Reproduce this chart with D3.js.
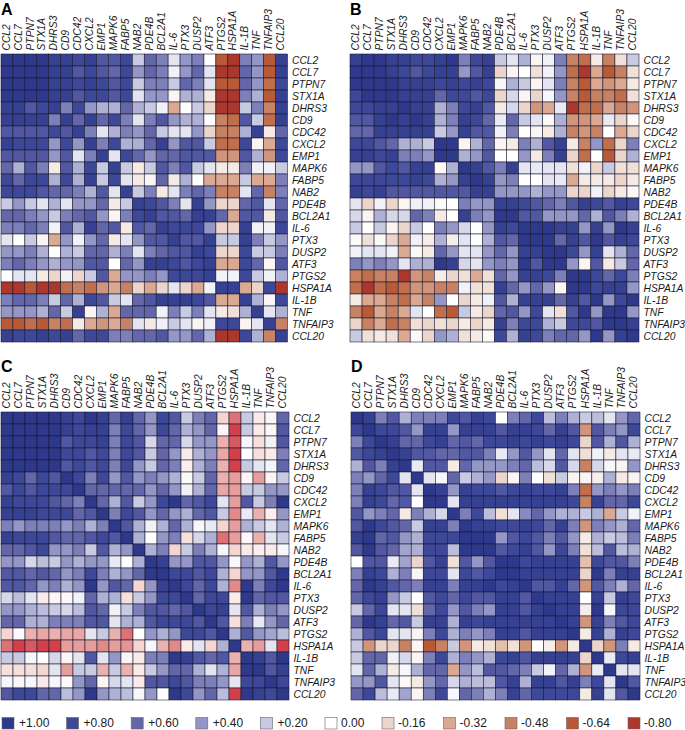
<!DOCTYPE html>
<html><head><meta charset="utf-8">
<style>html,body{margin:0;padding:0;background:#fff}svg{display:block}text{font-family:"Liberation Sans",Arial,sans-serif}</style>
<script src="https://cdn.jsdelivr.net/npm/d3@7"></script></head><body><svg id="c" width="685" height="730"></svg>
<script>
const genes=["CCL2","CCL7","PTPN7","STX1A","DHRS3","CD9","CDC42","CXCL2","EMP1","MAPK6","FABP5","NAB2","PDE4B","BCL2A1","IL-6","PTX3","DUSP2","ATF3","PTGS2","HSPA1A","IL-1B","TNF","TNFAIP3","CCL20"];
const legendValues=[1,0.8,0.6,0.4,0.2,0,-0.16,-0.32,-0.48,-0.64,-0.8];
const legendLabels=["+1.00","+0.80","+0.60","+0.40","+0.20","0.00","-0.16","-0.32","-0.48","-0.64","-0.80"];
const rampDomain=[-0.8,-0.64,-0.48,-0.32,-0.16,0,0.2,0.4,0.6,0.8,1];
const rampColors=["#ac372d","#b95a36","#c78263","#dba892","#ecd5ca","#ffffff","#c8cae2","#9497c6","#6367a9","#3e4898","#2e398b"];
const rampColorsC=["#d2404a","#d75a62","#e08a8a","#eab1ae","#f4d5d0","#ffffff","#c8cae2","#9497c6","#6367a9","#3e4898","#2e398b"];
// cell values in tenths of a unit
const panelA=[
[10,10,10,10,9,9,8,9,7,7,8,2,6,5,1,4,5,0,-7,-8,5,4,-7,9],
[10,10,10,10,9,9,7,8,7,6,8,4,6,5,.5,4,6,1,-8,-8,6,4,-7,9],
[10,10,10,10,9,9,8,9,8,7,8,2,5,5,2,6,5,1,-7,-7,6,4,-6,8],
[10,10,10,10,9,9,7,8,8,7,8,1,4,4,-.5,3,3,-1,-8,-8,5,3,-7,9],
[9,9,7,8,9,5,8,4,3,3,6,3,2,.5,-3,0,2,-2,-8,-8,2,5,-5,9],
[9,9,9,9,5,9,6,9,6,8,5,1,5,7,4,3,3,0,-5,-6,7,2,-6,9],
[7,7,7,7,8,7,9,5,1,3,5,4,6,2,1,1,4,-2,-5,-5,3,9,-1,6],
[9,8,8,8,4,8,4,9,5,8,3,3,6,9,4,7,7,2,-6,-6,8,-.5,-3,8],
[7,7,7,7,4,7,1,5,9,1,8,6,4,6,6,7,7,7,-4,-4,7,3,-4,8],
[6,3,7,5,-1,7,3,8,2,9,2,-1,2,7,5,7,2,1,-1,-1,5,.5,.5,2],
[8,6,8,8,3,8,3,9,2,8,1,-1,-.5,6,-1,3,0,-3,-3,-3,2,-3,-3,5],
[8,8,8,7,6,6,5,3,7,1,9,2,5,-1,1,5,6,5,-5,-5,1,6,-5,5],
[2,4,2,1,3,1,4,4,6,-1,2,9,8,7,5,1,9,4,-2,-2,6,7,1,6],
[6,6,5,4,2,5,6,7,4,-.5,5,8,9,7,7,6,9,9,6,-3,7,7,-1,7],
[5,5,6,5,.5,7,3,9,6,7,-1,7,6,9,8,8,8,4,-2,-2,9,.5,.5,8],
[1,0,2,-.5,-3,4,.5,4,6,-1,1,4,7,7,9,7,7,9,2,2,9,5,2,4],
[4,4,5,3,0,3,2,6,6,3,5,1,5,6,7,7,9,8,-2,-2,8,2,2,5],
[5,6,5,4,3,4,4,7,7,0,6,4,9,9,8,7,8,9,-3,-3,8,6,-.5,7],
[0,1,1,-1,-2,.5,-2,2,7,-3,4,4,5,4,8,8,8,9,.5,.5,8,2,.5,3],
[-8,-8,-7,-8,-8,-6,-5,-6,-4,-3,-5,-2,-3,-2,1,-2,-3,.5,9,9,-3,-2,8,-8],
[5,6,6,5,2,6,3,8,7,2,1,6,7,9,9,9,8,7,-3,-3,9,3,-.5,8],
[4,4,4,3,6,2,9,-.5,3,-3,6,6,6,.5,5,2,5,1,-1,-1.5,3,9,1,3],
[-7,-7,-6,-7,-5,-6,-1,-3,-4,-3,-5,1,-1,.5,2,1,-.5,.5,8,8,-.5,1,9,-5],
[9,8,8,9,8,9,6,8,8,5,5,6,6,7,4,4,6,3,-8,-8,8,3,-5,9]];
const panelB=[
[9,10,10,9,9,8,8,9,10,5,8,9,2,1,3,-.5,.5,5,-5,-6,-1,-5,-1.5,2],
[10,10,10,9,8,7,8,9,9,4,7,9,-2,-.5,0,-1.5,.5,4,-6,-8,-3,-7,-5,-1.5],
[10,10,10,10,9,9,9,8,9,8,9,8,.3,3,2,-.5,1,5,-5,-7,-3,-4,-3,-1],
[8,10,10,10,9,9,9,6,8,8,7,8,-2,1.5,-.5,-2,.3,4,-5,-7,-5,-5,-6,-1.5],
[8,8,9,9,10,9,9,3,5,8,9,7,-1,1.5,-2,-4,-3,.8,-8,-6,-6,-3,-5,-4],
[7,7,9,10,9,10,9,3,5,9,8,6,.8,6,2,1,-.3,3,-4,-4,-3,.8,-2,-.3],
[6,6,9,9,9,9,9,2,4,9,7,7,.5,5,0,-.5,-1,3,-5,-4,-5,0,-3,-2],
[8,8,7,6,3,3,2,10,10,-.5,3,6,-.5,-1,5,3,7,9,-1,-5,4,-6,-2,5],
[9,9,8,9,5,5,4,10,10,3,4,7,0,0,4,-1,5,9,-2,-6,0,-7,-2,3],
[4,4,7,8,7,9,9,-.3,3,10,9,7,5,9,1,.8,1,1,-1.5,.5,-2,2,-1.5,-1.5],
[8,8,8,8,8,9,8,3,4,9,10,9,4,5,0,0,1,.8,-3,-1,-1,-1,-2,-1],
[9,8,9,7,7,7,7,7,7,7,9,9,4,4,4,3,4,4,-2,-2,.5,-2,-1,-.3],
[1,-2,.5,-2,-.5,.5,.5,-.3,0,5,4,4,9,9,8,7,6,5,7,9,8,7,9,8],
[1.5,-.5,3,1.5,1.5,6,5,-1,0,9,5,4,10,10,7,7,4,4,4,6,3,7,5,3],
[2,0,2,-.5,-2,2,0,5,4,1.5,0,4,9,8,10,10,10,9,9,4,9,4,10,9],
[-.3,-1.5,-.3,-2,-3,.5,-.8,3,-.8,1,0,3,7,6,10,10,10,6,9,7,10,7,9,8],
[.5,1,1,.5,-3,-.3,-1,6,4,1,1,4,6,4,9,9,10,10,8,4,9,1,3,6],
[5,4,5,4,1,3,3,10,9,1.5,1,4,5,4,10,7,10,10,4,-.5,7,-1,2,6],
[-5,-6,-5,-5,-8,-4,-5,-.8,-2,-1.5,-3,-1.5,6,4,9,9,8,5,10,10,8,6,8,5],
[-6,-8,-6,-7,-6,-4,-4,-5,-5,.5,-1.5,-1.5,9,6,4,6,4,-.5,10,10,8,9,9,4],
[-1,-3,-3,-5,-6,-3,-5,4,0,-2,-1,.5,7,3,9,9,9,6,9,7,10,4,8,10],
[-5,-7,-3,-5,-3,1,0,-6,-7,2,-1,-2,6,7,4,8,1,-1.5,7,10,4,10,10,4],
[-2,-5,-3,-6,-5,-1.5,-2,-1.5,-2,-1,-2,-1,9,5,8,8,3,2,8,8,7,10,10,9],
[2,-1.5,-1,-1.5,-3,-.3,-2,4,3,-1.5,-1,-.3,8,3,9,8,5,6,6,4,10,4,9,10]];
const panelC=[
[10,10,10,10,10,9,8,10,9,6,9,6,4,8,7,2,5,6,-2,-6,2,-1,.3,6],
[10,10,10,10,10,9,8,9,9,5,8,6,4,8,6,3,4,6,-.5,-8,2,-1,-.5,7],
[10,10,10,10,10,7,8,8,9,5,8,7,1.5,6,6,1.5,4,4,-3,-7,.3,-1.5,.5,7],
[10,10,10,10,10,8,8,7,8,5,8,7,2,6,4,-1,3,4,-3.5,-8,0,-1.5,-1,5],
[10,10,10,10,10,7,8,7,8,5,8,4,2,6,5,-.8,3,5,-3,-8,2,1,.4,6],
[9,8,6,8,7,10,8,5,8,4,7,4,5,4,3,-.3,2,6,-3,-4,-.5,-4,-.5,2],
[7,8,7,8,8,8,10,6,6,6,6,6,4,6,4,.5,3,6,-3.5,-4,2,2,4,4],
[9,8,8,8,7,6,5,10,6,3,7,2,4,8,10,6,7,8,1,-4,7,2,5,10],
[9,9,9,8,8,8,6,7,10,5,8,7,4,6,4,3,6,7,2,-5,.8,-3,-.8,4],
[5,4,5,5,5,4,5,3,5,10,7,3,.5,3,6,3,.3,.8,-2,-4,3,2,1,3],
[9,8,8,8,7,6,6,7,8,7,10,3,0,4,5,-1.5,1.5,3,-6,-4,-.3,-3,1,2],
[6,6,7,8,4,4,5,2,7,3,4,10,3,5,-2,2,5,3,.3,-2,-1,-.8,-1,.3],
[4,4,1.5,2.5,2,4,3,4,4,.8,0,3,10,9,4,4,7,7,4,.3,4,3,7,4],
[7,7,6,7,6,4,5,8,5,3,4,6,10,10,8,8,7,8,3,-2,4,4,7,10],
[7,7,6,4,5,3,4,10,4,7,6,-2,4,9,10,8,6,8,3,-5,10,5,8,10],
[1.5,2.5,1,-1,-.5,-.3,.5,6,3,3,-1.5,2,4,8,8,10,6,8,8,-1,10,6,7,7],
[4,4,3,2.5,2,1.5,2.5,7,6,.5,2,5,7,7,6,7,10,8,9,1,7,3,5,4],
[6,6,3,3,5,5,5,7,7,1,3,3,7,8,8,8,7,10,7,-1.5,5,.8,4,6],
[-2,-.3,-3,-3.5,-3,-3.5,-3.5,1,2,-3,-6,0,4,3,4,8,8,7,10,3,7,4,3.5,2.5],
[-6,-8,-7,-8,-8,-4,-4,-4,-5,-4,-4.5,-2,.3,-3,-5,-1,1,-2,3,10,-3,-4,1,-8],
[2,2,.3,0,1.5,-.5,1,7,1,4,-.5,-1,5,5,10,9,7,6,7,-3,10,9,7,10],
[-1.5,-1.5,-1.5,-2,1,-4,2,2,-3,2,-3,-1,2,4,6,6,3,1,3,-3.5,10,10,7,9],
[.3,-.5,.3,-1,.3,-.3,4,6,-.5,1.5,1,-1,7,7,8,7,5,5,4,1,8,8,10,8],
[7,8,8,6,6,2.5,4,10,4,3,2.5,.3,4,0,10,8,4,6,2.5,-8,10,9,8,10]];
const panelD=[
[10,9,5,7,3,5,5,5,8,7,9,8,0,5,6,8,2.5,5,3,2,2.5,1,4,6],
[8,10,8,8,7,4,9,9,4,9,9,9,7,9,9,8,6,9,7,-4,7,5,4,8],
[5,8,10,9,6,6,8,9,6,7,6,8,8,9,8,9,8,9,8,-2,7,3,7,3],
[7,8,9,10,9,7,7,6,6,7,7,5,.8,4,7,4,1,6,1,-1.5,.5,-1,1,.8],
[3,7,5,9,10,.8,7,7,-1,6,4,4,4,5,6,2.5,1.5,7,1.5,-5,1.5,.3,-.5,4],
[5,4,6,8,1,10,1,.3,6,2,3,4,-2,-.5,5,0,-1.5,2,-.5,-.5,-.8,3,-1,-.5],
[5,9,8,7,7,1,10,9,4,9,8,8,7,8,9,8,8,9,5,-6,4,5,4,5],
[5,9,8,6,7,0,10,10,1,9,9,9,9,9,9,9,9,9,8,-5,9,6,6,8],
[7,4,5,6,-1,5,3,1.5,10,5,8,2.5,-1.5,1,4.5,6,4,3,3,2,3,-3,2,.5],
[7,10,8,7,6,2,9,9,5,10,9,9,8,8,9,8,6,9,5,-4,5,4,3,6],
[9,10,6,7,4,3,8,8,8,10,10,10,4,7,8,7,5,7,4,-1,3,2,2.5,5],
[7,10,7,6,3.5,3,8,8,2.5,10,10,10,7,8,9,7,4,8,5,-1.5,2.5,7,2.5,3],
[0,7,7,.8,3.5,-2,7,9,-1.5,7,4,7,10,10,8,9,9,9,9,-2.5,8,7,7,5],
[5,9,8,3,5,-.5,8,8,1,8,7,8,10,10,9,9,9,9,9,-2,10,5,9,9],
[6,10,9,7,6,5,9,9,5,9,9,10,8,9,10,7,7,9,6,-4,7,5,3,6],
[6,8,9,4,2,0,7,8,6,8,7,7,9,9,7,10,9,9,9,0,9,2,9,8],
[2,6,8,1,1,-1.5,6,8,4,7,5,4,9,9,7,9,10,9,9,-.8,10,.3,8,8],
[6,10,9,6,7,2,9,9,3,9,8,9,9,9,9,9,9,10,9,-4,9,5,7,8],
[3,7,8,1,1,-.5,5,8,3,5,4,5,9,9,7,9,9,9,10,-1,9,3,9,8],
[2,-4,-2,-2,-5,-.5,-7,-5,2,-4,-1,-1.5,-2.5,-1.5,-4,0,-.8,-4,-1,10,-2,-4,5,-1],
[2,6,6,.5,1.5,-.5,5,8,3,5,4,3,8,9,7,9,9,9,9,-2,10,.8,8,9],
[1,6,3,-1,.3,3,6,6,-3,4,2.5,7,7,6,5,2,.5,6,3,-4,.8,10,1,1],
[4,4,7,1,-.3,-1,4,6,1.5,3,2.5,2.5,7,9,3,9,9,7,9,5,8,1,10,7],
[6,8,2.5,.8,3.5,-.5,5,8,.3,6,5,3,5,9,6,8,8,8,8,-1,9,1,7,10]];
const readDomain=[-8,-7,-5,-3,-2,0,2,4,6,8,10];
const toValue=d3.scaleLinear().domain(readDomain).range(rampDomain);
const colorA=d3.scaleLinear().domain(rampDomain).range(rampColors);
const colorC=d3.scaleLinear().domain(rampDomain).range(rampColorsC);
const panels=[
 {name:"A",data:panelA,x0:1,x1:287.5,y0:54,y1:342,color:colorA,ly:14.5},
 {name:"B",data:panelB,x0:350,x1:639,y0:54,y1:342,color:colorA,ly:14.5},
 {name:"C",data:panelC,x0:1,x1:289,y0:412,y1:700,color:colorC,ly:371.5},
 {name:"D",data:panelD,x0:351,x1:640,y0:412,y1:700,color:colorA,ly:371.5}];
const svg=d3.select("#c");
const labelFont=10.3, ink="#1a1a1a";
panels.forEach(p=>{
 const x=d3.scaleBand().domain(genes).range([p.x0,p.x1]);
 const y=d3.scaleBand().domain(genes).range([p.y0,p.y1]);
 const g=svg.append("g");
 const cells=p.data.flatMap((r,i)=>r.map((v,j)=>({row:genes[i],col:genes[j],v})));
 g.selectAll("rect").data(cells).join("rect")
  .attr("x",d=>x(d.col)).attr("y",d=>y(d.row)).attr("width",x.bandwidth()).attr("height",y.bandwidth())
  .attr("fill",d=>p.color(toValue(d.v))).attr("stroke","#14162f").attr("stroke-width",0.55);
 g.selectAll("text.c").data(genes).join("text").attr("class","c")
  .attr("transform",d=>`translate(${x(d)+x.bandwidth()/2+2.7},${p.y0-3.5}) rotate(-90)`)
  .attr("font-size",labelFont).attr("font-style","italic").attr("fill",ink).text(d=>d);
 g.selectAll("text.r").data(genes).join("text").attr("class","r")
  .attr("x",p.x1+4.5).attr("y",d=>y(d)+y.bandwidth()/2+3.8)
  .attr("font-size",labelFont).attr("font-style","italic").attr("fill",ink).text(d=>d);
 svg.append("text").attr("x",p.x0).attr("y",p.ly).attr("font-size",16).attr("font-weight","bold").attr("fill","#000").text(p.name);
});
const legendX=d3.scaleLinear().domain([0,5,6,10]).range([2,325,382,628]);
svg.append("g").selectAll("g").data(legendLabels).join("g")
 .attr("transform",(d,i)=>`translate(${legendX(i)},717.5)`)
 .each(function(l,i){
  const g=d3.select(this);
  g.append("rect").attr("width",12).attr("height",11.5).attr("fill",colorA(legendValues[i])).attr("stroke","#666").attr("stroke-width",0.6);
  g.append("text").attr("x",i<5?17:16).attr("y",9.8).attr("font-size",12).attr("fill",ink).text(l);
 });
</script></body></html>
